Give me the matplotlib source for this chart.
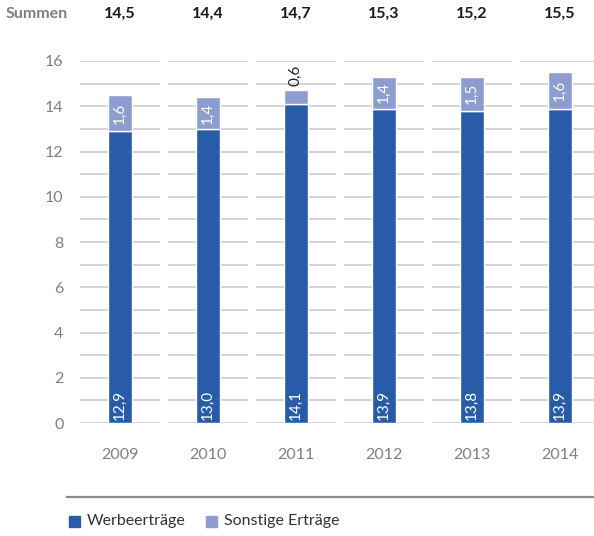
import matplotlib.pyplot as plt
from matplotlib.patches import Rectangle

plt.rcParams['font.family'] = ['Lato', 'DejaVu Sans']

# Daten
jahre = ['2009', '2010', '2011', '2012', '2013', '2014']
werbeertraege = [12.9, 13.0, 14.1, 13.9, 13.8, 13.9]
sonstige = [1.6, 1.4, 0.6, 1.4, 1.5, 1.6]
summen = [14.5, 14.4, 14.7, 15.3, 15.2, 15.5]
y_ticks = [0, 2, 4, 6, 8, 10, 12, 14, 16]

farbe_werbe = '#285ca9'
farbe_sonst = '#8e9dcf'
grau = '#7f7f7f'


def fmt(v):
    return f"{v:.1f}".replace('.', ',')


fig = plt.figure(figsize=(5.94, 5.36), dpi=100)
ax = fig.add_axes([0.128, 0.2108, 0.872, 0.6754])

x = list(range(len(jahre)))

# Gitterlinien je Kategorie (mit Lücken)
for i in x:
    ax.hlines(range(0, 17), i - 0.455, i + 0.455, color='#c9c9c9', lw=1.1, zorder=1)

ax.bar(x, werbeertraege, width=0.27, color=farbe_werbe, edgecolor='white', lw=1, zorder=2)
ax.bar(x, sonstige, width=0.27, bottom=werbeertraege, color=farbe_sonst,
       edgecolor='white', lw=1, zorder=2)

# Wertbeschriftungen
for i in x:
    ax.text(i, 0.12, fmt(werbeertraege[i]), rotation=90, ha='center', va='bottom',
            color='white', fontsize=11, zorder=3)
    if sonstige[i] >= 1:
        ax.text(i, werbeertraege[i] + sonstige[i] / 2, fmt(sonstige[i]), rotation=90,
                ha='center', va='center', color='white', fontsize=11, zorder=3)
    else:
        ax.text(i, werbeertraege[i] + sonstige[i] + 0.2, fmt(sonstige[i]), rotation=90,
                ha='center', va='bottom', color='#222222', fontsize=11, zorder=3)

ax.set_xlim(-0.5, 5.39)
ax.set_ylim(0, 16)
ax.set_yticks(y_ticks)
ax.set_xticks(x)
ax.set_xticklabels(jahre)
ax.tick_params(axis='both', length=0, colors=grau, labelsize=11.5)
ax.tick_params(axis='y', pad=9)
ax.tick_params(axis='x', pad=18)
for s in ax.spines.values():
    s.set_visible(False)

# Summenzeile
for i in x:
    xf = fig.transFigure.inverted().transform(ax.transData.transform((i, 0)))[0]
    fig.text(xf, 1 - 14 / 536, fmt(summen[i]), ha='center', va='center',
             fontsize=11.5, fontweight='bold', color='#1a1a1a')
fig.text(6 / 594, 1 - 14 / 536, 'Summen', ha='left', va='center',
         fontsize=11.5, fontweight='bold', color=grau)

# Trennlinie
fig.add_artist(plt.Line2D([67 / 594, 1], [1 - 497 / 536] * 2, color='#8a8a8a', lw=1.6,
                          transform=fig.transFigure))

# Legende
for xs, farbe, label in [(69, farbe_werbe, 'Werbeerträge'), (206, farbe_sonst, 'Sonstige Erträge')]:
    fig.add_artist(Rectangle((xs / 594, 1 - 527 / 536), 11 / 594, 11 / 536,
                             color=farbe, transform=fig.transFigure))
    fig.text((xs + 18) / 594, 1 - 521 / 536, label, ha='left', va='center',
             fontsize=11.5, color='#333333')

fig.savefig('out.png', dpi=100)
